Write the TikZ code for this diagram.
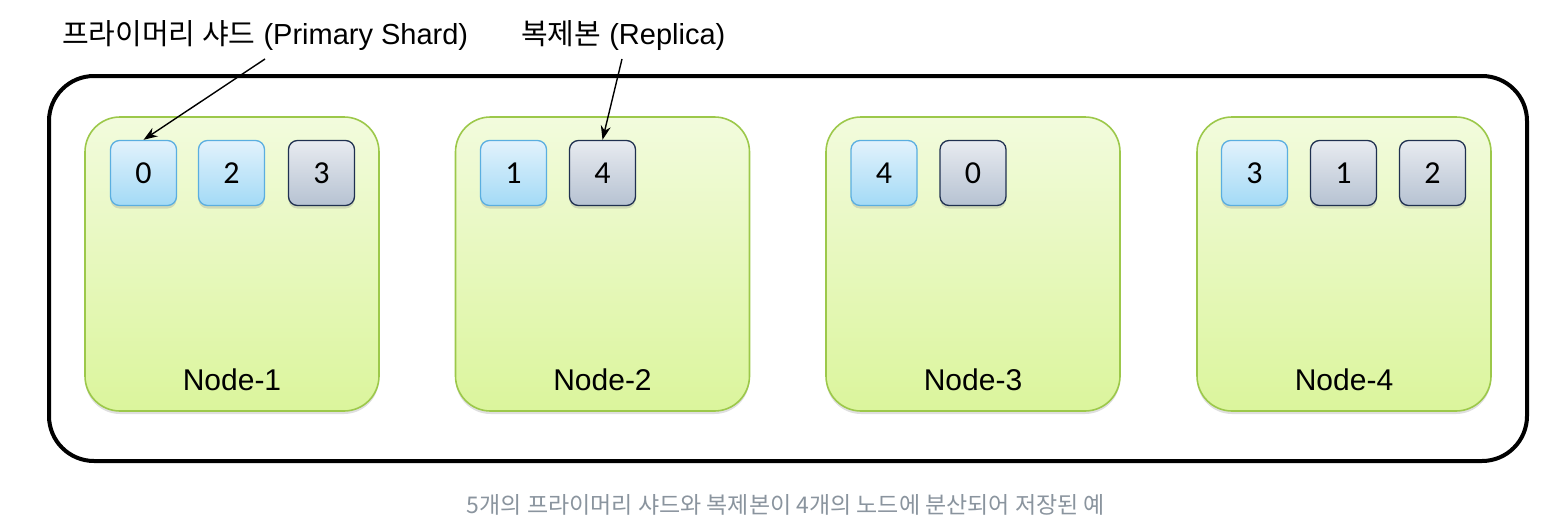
\documentclass[tikz,border=0pt]{standalone}
\usepackage{fontspec}
\setmainfont{Liberation Sans}
\newfontfamily\kr{Noto Sans CJK KR}
\newfontfamily\digitfont{Carlito}
\usetikzlibrary{shadows,arrows.meta}
\definecolor{nodeborder}{HTML}{9CC84A}
\definecolor{nodetop}{HTML}{F2FBDD}
\definecolor{nodebot}{HTML}{DBF59C}
\definecolor{primtop}{HTML}{E2F2FC}
\definecolor{primbot}{HTML}{A3DAF6}
\definecolor{primborder}{HTML}{5AAEE0}
\definecolor{reptop}{HTML}{E8EBF0}
\definecolor{repbot}{HTML}{B6C2D2}
\definecolor{repborder}{HTML}{1F3050}
\definecolor{captiongray}{HTML}{8A949E}
\tikzset{
  x=1pt, y=-1pt,
  esnode/.style={draw=nodeborder, line width=1.6pt, rounded corners=35pt,
    top color=nodetop, bottom color=nodebot, minimum width=294pt, minimum height=294pt,
    inner sep=0pt, drop shadow={shadow xshift=0pt, shadow yshift=-3pt, opacity=0.25}},
  shardbase/.style={rounded corners=9pt, line width=1.3pt, minimum width=66pt, minimum height=65pt,
    inner sep=0pt, font=\digitfont\fontsize{32}{32}\selectfont,
    drop shadow={shadow xshift=0pt, shadow yshift=-3pt, opacity=0.25}},
  primary/.style={shardbase, draw=primborder, top color=primtop, bottom color=primbot},
  replica/.style={shardbase, draw=repborder, top color=reptop, bottom color=repbot},
  nodelabel/.style={font=\fontsize{30}{30}\selectfont, inner sep=0pt},
  title/.style={font=\fontsize{29}{29}\selectfont, inner sep=0pt, anchor=west},
  pointer/.style={-{Stealth[length=14pt,width=10pt]}, line width=1.4pt},
}
\begin{document}
\begin{tikzpicture}
\useasboundingbox (0,0) rectangle (1566,530);
\node[draw=black, line width=4pt, rounded corners=45pt, minimum width=1478pt, minimum height=385pt, inner sep=0pt] (cluster) at (788,268.5) {};

\node[esnode] (n1) at (232,264) {};
\node[esnode] (n2) at (602.5,264) {};
\node[esnode] (n3) at (973,264) {};
\node[esnode] (n4) at (1344,264) {};

\node[nodelabel] (l1) at (232,380) {Node-1};
\node[nodelabel] (l2) at (602.5,380) {Node-2};
\node[nodelabel] (l3) at (973,380) {Node-3};
\node[nodelabel] (l4) at (1344,380) {Node-4};

\node[primary] (s1a) at (143.5,173) {0};
\node[primary] (s1b) at (231.5,173) {2};
\node[replica] (s1c) at (321.5,173) {3};

\node[primary] (s2a) at (513.5,173) {1};
\node[replica] (s2b) at (602.5,173) {4};

\node[primary] (s3a) at (884,173) {4};
\node[replica] (s3b) at (973,173) {0};

\node[primary] (s4a) at (1254.5,173) {3};
\node[replica] (s4b) at (1343.5,173) {1};
\node[replica] (s4c) at (1432.5,173) {2};

\node[title] (t1) at (62,36) {{\kr 프라이머리 샤드} (Primary Shard)};
\node[title] (t2) at (521,36) {{\kr 복제본} (Replica)};

\coordinate (p1) at (265,59);
\coordinate (p2) at (622,59);
\draw[pointer] (p1) -- (s1a.north);
\draw[pointer] (p2) -- (s2b.north);

\node[font=\kr\fontsize{23}{23}\selectfont, text=captiongray, inner sep=0pt] (cap) at (786,505) {5개의 프라이머리 샤드와 복제본이 4개의 노드에 분산되어 저장된 예};
\end{tikzpicture}
\end{document}
